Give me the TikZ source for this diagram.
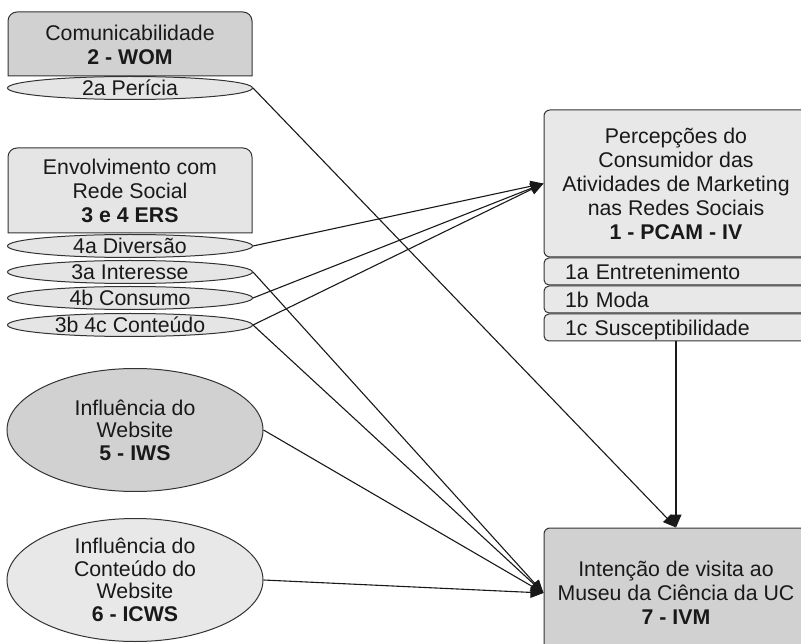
\documentclass[tikz,border=0pt]{standalone}
\usepackage{fontspec}
\setmainfont{Liberation Sans}
\usetikzlibrary{shapes.geometric,arrows.meta}

\begin{document}
\begin{tikzpicture}[x=1pt,y=-1pt,
                    font=\fontsize{21.3}{24}\selectfont,
                    every node/.style={text=black!90,align=center},
                    border/.style={draw=black!80,line width=1pt},
                    pill/.style={border,ellipse,fill=black!10,minimum width=245,minimum height=23,inner sep=0},
                    blob/.style={border,ellipse,minimum width=256,minimum height=123,inner sep=0},
                    blobtext/.style={font=\fontsize{21.3}{22.5}\selectfont},
                    panel/.style={border,rectangle,rounded corners=6,minimum width=264,inner sep=0},
                    tag/.style={border,rectangle,rounded corners=5,fill=black!9,minimum height=27,text width=222,
                                inner xsep=21,inner ysep=0,text height=15.5,text depth=0,align=left},
                    arr/.style={draw=black!90,line width=1.1pt,-{Triangle[length=13pt,width=11pt]}}
                ]
                    \useasboundingbox (0,0) rectangle (801,644);
                    \clip (0,0) rectangle (801,644);

                    \draw[border,fill=black!18] (8,76) -- (8,21) arc[start angle=180,end angle=90,radius=9pt]
                        -- (243,12) arc[start angle=90,end angle=0,radius=9pt] -- (252,76) -- cycle;
                    \node (wom) at (130,45) {Comunicabilidade\\\textbf{2 - WOM}};
                    \node[pill,label=center:2a Perícia] (per) at (130,88) {};

                    \draw[border,fill=black!10] (8,233) -- (8,157) arc[start angle=180,end angle=90,radius=9pt]
                        -- (243,148) arc[start angle=90,end angle=0,radius=9pt] -- (252,233) -- cycle;
                    \node (ers) at (130,191) {Envolvimento com\\Rede Social\\\textbf{3 e 4 ERS}};
                    \foreach \nm/\yy/\txt in {div/246/4a Diversão,inr/272/3a Interesse,con/298/4b Consumo,cnt/325/3b 4c Conteúdo}
                        {
                        \node[pill,label=center:\txt] (\nm) at (130,\yy) {};
                    }

                    \node[blob,fill=black!18,
                          label={[blobtext]center:{Influência do\\Website\\\textbf{5 - IWS}}}] (iws) at (135,430) {};
                    \node[blob,fill=black!9,
                          label={[blobtext]center:{Influência do\\Conteúdo do\\Website\\\textbf{6 - ICWS}}}] (icws) at (135,580) {};

                    \node[panel,fill=black!9,minimum height=147] (pcam) at (676,183.5)
                        {Percepções do\\Consumidor das\\Atividades de Marketing\\nas Redes Sociais\\\textbf{1 - PCAM - IV}};
                    \foreach \nm/\yy/\txt in {ent/271.5/1a Entretenimento,moda/299.5/1b Moda,sus/327.5/1c Susceptibilidade}
                        {
                        \node[tag] (\nm) at (676,\yy) {\txt};
                    }
                    \node[panel,fill=black!18,minimum height=130] (ivm) at (676,593)
                        {Intenção de visita ao\\Museu da Ciência da UC\\\textbf{7 - IVM}};

                    \foreach \src in {div,con,cnt}
                        \draw[arr] (\src.east) -- (pcam.west);
                    \foreach \src in {inr,cnt,iws,icws}
                        \draw[arr] (\src.east) -- (ivm.west);
                    \draw[arr] (per.east) -- (ivm.north);
                    \draw[arr] (sus.south) -- (ivm.north);

                \end{tikzpicture}
\end{document}
